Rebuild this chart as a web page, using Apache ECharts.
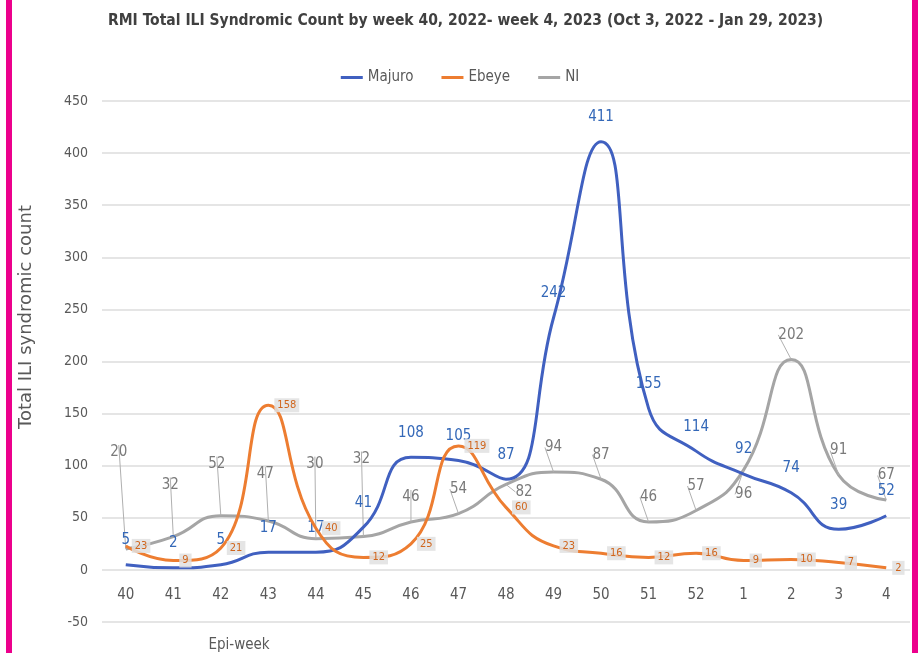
<!DOCTYPE html>
<html>
<head>
<meta charset="utf-8">
<title>RMI Total ILI Syndromic Count</title>
<script src="https://cdn.jsdelivr.net/npm/echarts/dist/echarts.min.js"></script>
<style>
  html, body { margin: 0; padding: 0; background: #fff; }
  #chart { width: 920px; height: 653px; }
</style>
</head>
<body>
<div id="chart"></div>
<script>
// epi-weeks (week 40, 2022 .. week 4, 2023)
const weeks = ['40', '41', '42', '43', '44', '45', '46', '47', '48', '49', '50', '51', '52', '1', '2', '3', '4']
const majuro = [5, 2, 5, 17, 17, 41, 108, 105, 87, 242, 411, 155, 114, 92, 74, 39, 52]
const ebeye = [23, 9, 21, 158, 40, 12, 25, 119, 60, 23, 16, 12, 16, 9, 10, 7, 2]
const ni = [20, 32, 52, 47, 30, 32, 46, 54, 82, 94, 87, 46, 57, 96, 202, 91, 67]

const yMin = -50
const yMax = 450
const yStep = 50

// label nudges for the NI series (dataIndex -> [dx, dy]), like the moved Excel labels
const niLabelShift = {
  0: [-7, -72],
  1: [-3, -27],
  2: [-4, -27],
  3: [-3, -22],
  4: [-1, -50],
  5: [-2, -53],
  8: [18, 32],
  13: [0, 49]
}

const font = '"Liberation Sans Narrow", "DejaVu Sans Condensed", sans-serif'

const chart = echarts.init(document.getElementById('chart'))

chart.setOption({
  backgroundColor: '#ffffff',
  animation: false,
  textStyle: { fontFamily: font },
  title: {
    text: 'RMI Total ILI Syndromic Count by week 40, 2022- week 4, 2023 (Oct 3, 2022 - Jan 29, 2023)',
    left: 103,
    top: 8,
    textStyle: { fontFamily: font, fontSize: 15.5, fontWeight: 'bold', color: '#404040' }
  },
  legend: {
    top: 65,
    left: 'center',
    icon: 'rect',
    itemWidth: 22,
    itemHeight: 3,
    itemGap: 28,
    textStyle: { fontFamily: font, fontSize: 15, color: '#595959' },
    data: ['Majuro', 'Ebeye', 'NI']
  },
  grid: { left: 102, right: 10, top: 101, bottom: 31 },
  xAxis: {
    type: 'category',
    data: weeks,
    boundaryGap: true,
    axisLine: { show: false },
    axisTick: { show: false },
    // labels sit just under the zero line, as in the Excel original
    axisLabel: { margin: -34, fontFamily: font, fontSize: 15, color: '#595959' }
  },
  yAxis: {
    type: 'value',
    min: yMin,
    max: yMax,
    interval: yStep,
    axisLine: { show: false },
    axisTick: { show: false },
    splitLine: { lineStyle: { color: '#dcdcdc', width: 1.5 } },
    axisLabel: { margin: 14, fontFamily: font, fontSize: 14, color: '#595959' }
  },
  series: [
    {
      name: 'Majuro',
      type: 'line',
      data: majuro,
      smooth: 0.5,
      symbol: 'circle',
      symbolSize: 0,
      z: 3,
      lineStyle: { width: 3, color: '#4060c0' },
      itemStyle: { color: '#4060c0' },
      label: {
        show: true,
        position: 'top',
        distance: 17,
        fontFamily: font,
        fontSize: 15,
        color: '#3468b8'
      }
    },
    {
      name: 'Ebeye',
      type: 'line',
      data: ebeye,
      smooth: 0.5,
      symbol: 'circle',
      symbolSize: 0,
      z: 4,
      lineStyle: { width: 3, color: '#ed7d31' },
      itemStyle: { color: '#ed7d31' },
      label: {
        show: true,
        position: 'right',
        distance: 6,
        fontFamily: font,
        fontSize: 11,
        color: '#d0651c',
        backgroundColor: 'rgba(225,225,225,0.85)',
        padding: [2, 3, 1, 3]
      }
    },
    {
      name: 'NI',
      type: 'line',
      data: ni,
      smooth: 0.5,
      symbol: 'circle',
      symbolSize: 0,
      z: 2,
      lineStyle: { width: 3, color: '#a5a5a5' },
      itemStyle: { color: '#a5a5a5' },
      label: {
        show: true,
        position: 'top',
        distance: 17,
        fontFamily: font,
        fontSize: 15,
        color: '#7a7a7a'
      },
      labelLine: { show: true, lineStyle: { color: '#b0b0b0', width: 1 } },
      labelLayout: function (p) {
        const s = niLabelShift[p.dataIndex]
        return s ? { dx: s[0], dy: s[1] } : {}
      }
    }
  ],
  graphic: [
    {
      type: 'text',
      x: 26,
      y: 317,
      rotation: Math.PI / 2,
      style: {
        text: 'Total ILI syndromic count',
        font: '18px "DejaVu Sans"',
        fill: '#595959',
        align: 'center',
        verticalAlign: 'middle'
      }
    },
    {
      type: 'text',
      x: 239,
      y: 645,
      style: {
        text: 'Epi-week',
        font: '15px ' + font,
        fill: '#595959',
        align: 'center',
        verticalAlign: 'middle'
      }
    },
    { type: 'rect', left: 6, top: 0, shape: { width: 6, height: 653 }, style: { fill: '#ec008c' }, z: 100 },
    { type: 'rect', left: 912, top: 0, shape: { width: 6, height: 653 }, style: { fill: '#ec008c' }, z: 100 }
  ]
})
</script>
</body>
</html>
